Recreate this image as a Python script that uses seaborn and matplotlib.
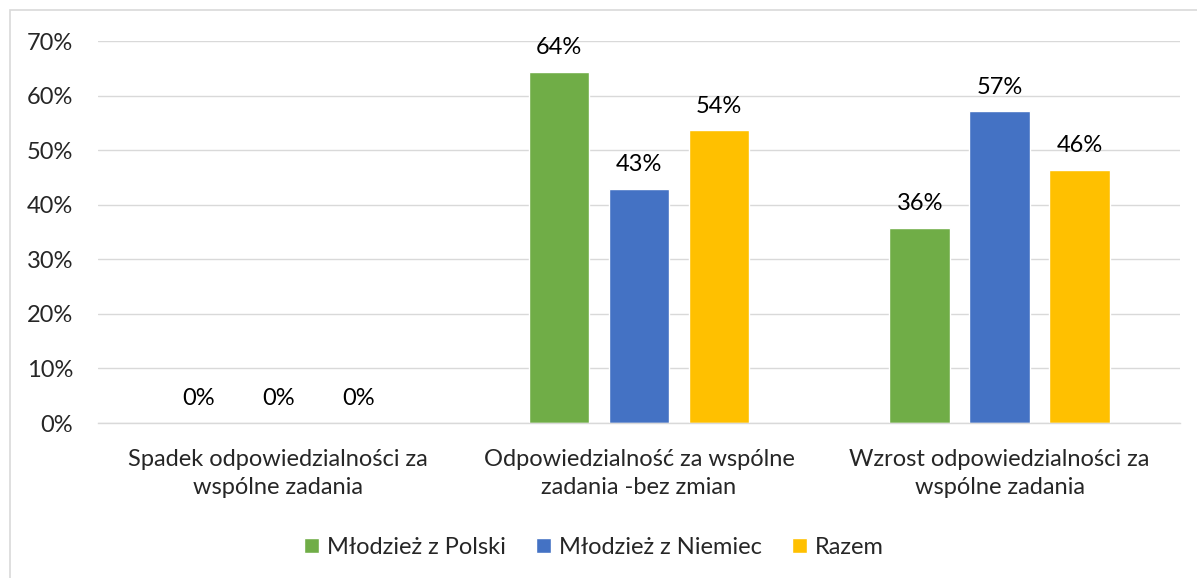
import matplotlib.pyplot as plt
import seaborn as sns
import pandas as pd
from matplotlib.patches import Rectangle

categories = ["Spadek odpowiedzialności za\nwspólne zadania",
              "Odpowiedzialność za wspólne\nzadania -bez zmian",
              "Wzrost odpowiedzialności za\nwspólne zadania"]
series = ["Młodzież z Polski", "Młodzież z Niemiec", "Razem"]
polska = [0.0, 64.3, 35.7]
niemcy = [0.0, 42.9, 57.1]
razem = [0.0, 53.6, 46.4]
colors = ["#70AD47", "#4472C4", "#FFC000"]

rows = []
for name, vals in zip(series, [polska, niemcy, razem]):
    for cat, v in zip(categories, vals):
        rows.append({"kategoria": cat, "grupa": name, "wartosc": v})
df = pd.DataFrame(rows)

sns.set_style("white")
plt.rcParams['font.family'] = ['Lato', 'DejaVu Sans']
fs = 17

fig = plt.figure(figsize=(11.97, 5.78), dpi=100)
ax = fig.add_axes([98 / 1197, 1 - 423 / 578, (1180 - 98) / 1197, (423 - 41) / 578])

sns.barplot(data=df, x="kategoria", y="wartosc", hue="grupa", order=categories,
            hue_order=series, palette=colors, width=0.665, gap=0.24,
            saturation=1, ax=ax, legend=True)

for cont in ax.containers:
    ax.bar_label(cont, labels=[f"{v:.0f}%" for v in cont.datavalues],
                 padding=10, fontsize=fs, color="#000000")

ax.set_ylim(0, 70)
ax.set_yticks(range(0, 71, 10))
ax.set_yticklabels([f"{t}%" for t in range(0, 71, 10)], fontsize=fs)
ax.tick_params(axis="x", labelsize=fs, pad=19, length=0)
ax.tick_params(axis="y", length=0, pad=18)
for lbl in ax.get_xticklabels():
    lbl.set_linespacing(1.4)
ax.set_xlabel("")
ax.set_ylabel("")
ax.yaxis.grid(True, color="#D9D9D9", linewidth=1)
ax.set_axisbelow(True)
for s in ["top", "right", "left"]:
    ax.spines[s].set_visible(False)
ax.spines["bottom"].set_color("#D9D9D9")
ax.spines["bottom"].set_linewidth(1)

ax.legend(loc="center", bbox_to_anchor=(594 / 1197, 1 - 547 / 578),
          bbox_transform=fig.transFigure, ncol=3, frameon=False, fontsize=fs,
          handlelength=0.6, handleheight=0.6, handletextpad=0.35, columnspacing=1.3)

fig.patches.append(Rectangle((10 / 1197, -0.1), 1.2, 1 - 10 / 578 + 0.1,
                             transform=fig.transFigure, fill=False,
                             edgecolor="#D9D9D9", linewidth=1.2))

fig.savefig("out.png", dpi=100)
